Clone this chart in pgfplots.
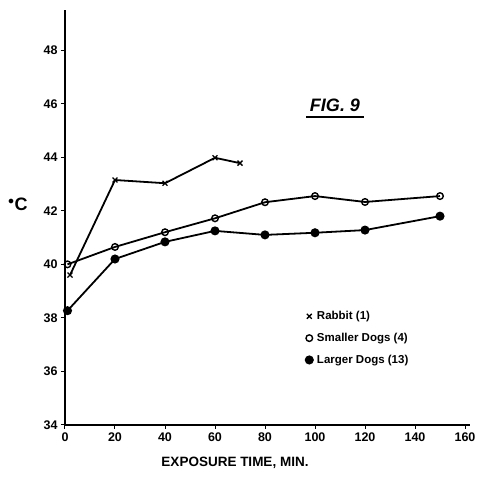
\documentclass[border=0pt]{standalone}
\usepackage{fontspec}
\setmainfont{Liberation Sans}
\usepackage{pgfplots}
\pgfplotsset{compat=1.18}

\begin{document}
\begin{tikzpicture}
\begin{axis}[
    name=ax,
    scale only axis,
    width=405pt, height=415pt,
    xmin=0, xmax=162,
    ymin=34, ymax=49.5,
    axis x line*=bottom,
    axis y line*=left,
    axis line style={-, line width=1.8pt},
    xtick={0,20,...,160},
    ytick={34,36,...,48},
    tick style={line width=1pt, black},
    major tick length=4pt,
    tick align=outside,
    /pgf/number format/assume math mode=true,
    tick label style={font=\bfseries\fontsize{12.5}{12.5}\selectfont},
    clip=false,
    legend style={at={(axis cs:95,38.4)}, anchor=north west, draw=none, fill=none,
        font=\bfseries\fontsize{11.5}{13}\selectfont, row sep=8pt},
    legend cell align=left,
    legend image code/.code={\draw[#1] plot[only marks] coordinates {(0.1cm,0cm)};
        \path[draw=none, fill=none] (0cm,0cm) rectangle (0.3cm,0.01cm);},
]
% rabbit
\addplot[black, line width=1.8pt, mark=x, mark size=3.5pt, mark options={line width=1.3pt}]
    coordinates {(2,39.6)(20,43.15)(40,43.03)(60,43.98)(70,43.78)};
% smaller dogs
\addplot[black, line width=1.8pt, mark=o, mark size=3.3pt, mark options={fill=white, line width=1.4pt}]
    coordinates {(1,40.0)(20,40.65)(40,41.2)(60,41.72)(80,42.32)(100,42.55)(120,42.33)(150,42.55)};
% larger dogs
\addplot[black, line width=1.8pt, mark=*, mark size=3.6pt]
    coordinates {(1,38.27)(20,40.2)(40,40.84)(60,41.25)(80,41.1)(100,41.18)(120,41.28)(150,41.8)};
\legend{Rabbit (1), Smaller Dogs (4), Larger Dogs (13)}

\node[font=\bfseries\itshape\fontsize{18}{18}\selectfont] (fig) at (axis cs:108,45.95) {FIG. 9};
\draw[line width=1.4pt] ([yshift=-2pt]fig.south west) -- ([yshift=-2pt]fig.south east);
\node[font=\bfseries\fontsize{18}{18}\selectfont] at ([xshift=-47pt]axis cs:0,42.25) {$^\bullet$C};
\node[font=\bfseries\fontsize{13.5}{13.5}\selectfont] at ([yshift=-38pt]axis cs:68,34) {EXPOSURE TIME, MIN.};
\end{axis}
\path (ax.south west) ++(-65pt,-53pt) rectangle ++(479pt,478pt);
\end{tikzpicture}
\end{document}
